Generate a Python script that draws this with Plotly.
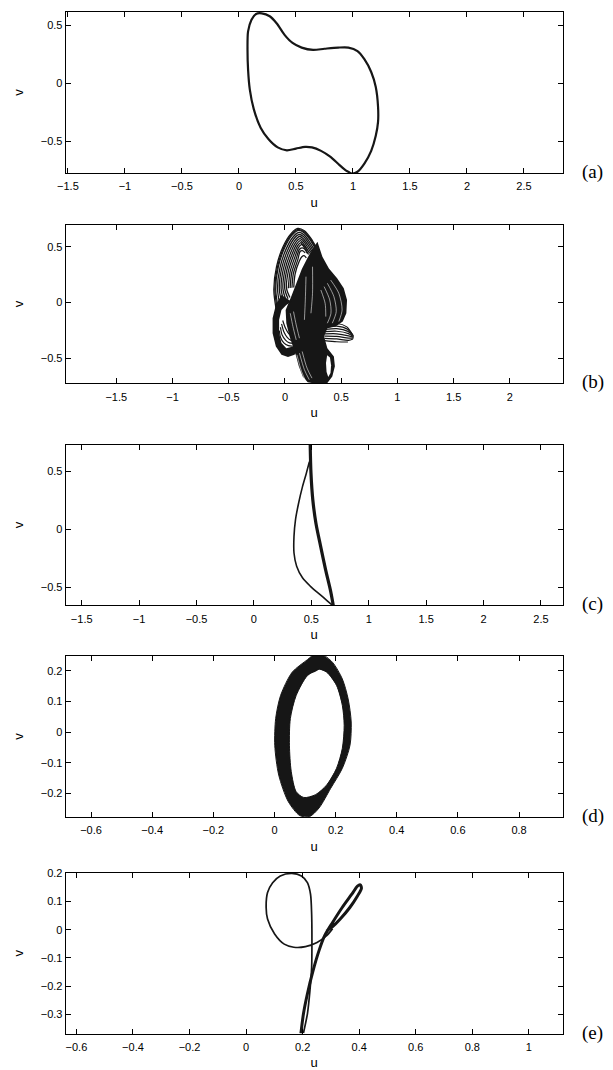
import plotly.graph_objects as go

# ---------------- data ----------------
# (a) limit cycle
a_u = [0.20,0.27,0.33,0.40,0.47,0.55,0.65,0.75,0.87,0.96,1.04,1.10,1.16,1.20,1.22,1.22,1.20,1.16,1.10,1.04,0.99,0.96,0.94,0.88,0.80,0.72,0.64,0.58,0.50,0.42,0.34,0.26,0.19,0.13,0.095,0.08,0.075,0.08,0.11,0.15,0.20]
a_v = [0.605,0.58,0.52,0.42,0.35,0.31,0.29,0.30,0.31,0.31,0.28,0.21,0.10,-0.03,-0.20,-0.33,-0.45,-0.58,-0.69,-0.76,-0.775,-0.76,-0.75,-0.70,-0.63,-0.58,-0.55,-0.545,-0.56,-0.575,-0.55,-0.48,-0.38,-0.22,-0.05,0.12,0.30,0.45,0.55,0.60,0.605]

# (b) chaotic attractor
b_body_u = [0.289,0.333,0.391,0.464,0.523,0.552,0.546,0.514,0.450,0.377,0.348,0.377,0.435,0.444,0.421,0.377,0.275,0.202,0.158,0.123,0.100,0.071,0.041,0.012,0.006,0.056,0.100,0.150,0.200,0.240]
b_body_v = [0.544,0.410,0.306,0.217,0.128,0.024,-0.095,-0.169,-0.214,-0.229,-0.303,-0.407,-0.481,-0.570,-0.660,-0.719,-0.725,-0.713,-0.660,-0.570,-0.481,-0.392,-0.303,-0.184,-0.065,0.054,0.173,0.300,0.400,0.470]
b_loop_u = [-0.031,-0.081,-0.110,-0.110,-0.081,-0.031,0.027,0.085,0.114,0.071,0.012,-0.031,-0.052,-0.052,-0.031,0.012,0.056]
b_loop_v = [0.069,-0.021,-0.140,-0.273,-0.392,-0.466,-0.487,-0.466,-0.422,-0.392,-0.407,-0.362,-0.273,-0.154,-0.065,-0.021,0.009]
b_hole_u = [0.375,0.40,0.41,0.405,0.385,0.37,0.365]
b_hole_v = [-0.47,-0.49,-0.56,-0.63,-0.665,-0.62,-0.54]
b_fan = [
    ([-0.075,-0.099,-0.075,-0.017,0.056,0.114,0.173,0.231,0.275], [-0.080,0.113,0.321,0.500,0.619,0.663,0.642,0.574,0.500]),
    ([-0.066,-0.090,-0.067,-0.010,0.060,0.116,0.171,0.227,0.270], [-0.070,0.114,0.318,0.494,0.611,0.654,0.633,0.567,0.495]),
    ([-0.058,-0.082,-0.060,-0.004,0.064,0.118,0.170,0.224,0.265], [-0.06,0.115,0.315,0.488,0.603,0.645,0.625,0.560,0.49]),
    ([-0.041,-0.066,-0.045,0.009,0.072,0.122,0.167,0.217,0.256], [-0.04,0.117,0.309,0.476,0.587,0.627,0.608,0.546,0.48]),
    ([-0.024,-0.050,-0.030,0.022,0.080,0.126,0.164,0.210,0.247], [-0.02,0.119,0.303,0.464,0.571,0.609,0.591,0.532,0.47]),
    ([-0.007,-0.034,-0.015,0.035,0.088,0.130,0.161,0.203,0.238], [0.0,0.121,0.297,0.452,0.555,0.591,0.574,0.518,0.46]),
    ([0.010,-0.018,0.0,0.048,0.096,0.134,0.158,0.196,0.23], [0.02,0.123,0.291,0.44,0.539,0.573,0.557,0.504,0.45]),
    ([0.027,-0.002,0.015,0.061,0.104,0.138,0.155,0.189,0.22], [0.035,0.125,0.285,0.428,0.523,0.555,0.540,0.49,0.44]),
    ([0.044,0.014,0.030,0.074,0.112,0.142,0.152,0.18,0.21], [0.045,0.127,0.279,0.416,0.507,0.537,0.523,0.48,0.43]),
    ([0.03,0.045,0.087,0.120,0.146,0.17,0.20], [0.129,0.273,0.404,0.491,0.519,0.51,0.47]),
    ([0.046,0.060,0.100,0.128,0.15,0.175,0.20], [0.131,0.267,0.392,0.475,0.49,0.48,0.44]),
    ([0.062,0.075,0.113,0.136,0.155,0.18], [0.133,0.261,0.38,0.459,0.465,0.445]),
    ([0.078,0.090,0.126,0.15,0.17,0.19], [0.135,0.255,0.368,0.41,0.42,0.40]),
]
b_wedge = [
    ([0.36,0.46,0.55,0.60], [-0.20,-0.187,-0.217,-0.285]),
    ([0.36,0.46,0.555,0.605], [-0.22,-0.21,-0.237,-0.292]),
    ([0.36,0.46,0.56,0.61], [-0.24,-0.233,-0.257,-0.298]),
    ([0.355,0.46,0.565,0.61], [-0.26,-0.256,-0.277,-0.305]),
    ([0.355,0.46,0.565,0.61], [-0.28,-0.279,-0.297,-0.311]),
    ([0.35,0.46,0.565,0.61], [-0.30,-0.302,-0.317,-0.318]),
    ([0.35,0.46,0.565,0.605], [-0.32,-0.325,-0.337,-0.325]),
    ([0.35,0.46,0.56], [-0.34,-0.35,-0.352]),
]
b_inner_hatch = [
    ([-0.05,-0.04,-0.01,0.03,0.07], [-0.25,-0.31,-0.36,-0.385,-0.39]),
    ([-0.04,-0.025,0.005,0.04,0.075], [-0.22,-0.29,-0.335,-0.36,-0.365]),
    ([-0.03,-0.01,0.02,0.05,0.08], [-0.19,-0.26,-0.31,-0.335,-0.34]),
    ([-0.02,0.005,0.035,0.065], [-0.16,-0.23,-0.28,-0.305]),
]
b_streaks = [
    ([0.406,0.479,0.508,0.479], [0.202,0.083,-0.065,-0.169]),
    ([0.377,0.435,0.456,0.421], [0.173,0.054,-0.080,-0.184]),
    ([0.348,0.398,0.409,0.377], [0.143,0.024,-0.095,-0.184]),
    ([0.319,0.357,0.363], [0.113,-0.006,-0.125]),
    ([0.187,0.181,0.173], [0.232,0.024,-0.154]),
    ([0.245,0.245,0.231], [0.321,0.083,-0.095]),
    ([0.129,0.173,0.216], [-0.452,-0.600,-0.689]),
    ([0.153,0.196,0.240], [-0.437,-0.585,-0.675]),
    ([0.106,0.147,0.181], [-0.467,-0.615,-0.695]),
    ([0.047,0.071,0.100], [-0.095,-0.214,-0.333]),
    ([0.076,0.100,0.129], [-0.080,-0.199,-0.318]),
]

# (c)
c_thick_u = [0.490,0.497,0.513,0.540,0.581,0.624,0.668,0.691]
c_thick_v = [0.729,0.48,0.251,0.051,-0.149,-0.349,-0.534,-0.657]
c_thin_u = [0.483,0.456,0.423,0.389,0.362,0.349,0.349,0.372,0.423,0.49,0.574,0.641,0.685]
c_thin_v = [0.58,0.48,0.366,0.223,0.08,-0.063,-0.206,-0.32,-0.42,-0.491,-0.563,-0.62,-0.657]

# (d) torus band
d_outer_u = [0.152,0.190,0.222,0.241,0.251,0.247,0.222,0.184,0.146,0.115,0.083,0.045,0.014,0.001,0.004,0.020,0.058,0.108,0.134,0.152]
d_outer_v = [0.256,0.227,0.173,0.108,0.033,-0.043,-0.118,-0.183,-0.247,-0.275,-0.272,-0.226,-0.140,-0.043,0.044,0.119,0.195,0.236,0.256,0.256]
d_inner_u = [0.146,0.171,0.203,0.222,0.228,0.222,0.203,0.171,0.134,0.096,0.071,0.055,0.049,0.052,0.071,0.108,0.146]
d_inner_v = [0.205,0.195,0.152,0.087,0.022,-0.053,-0.118,-0.172,-0.204,-0.213,-0.194,-0.129,-0.043,0.044,0.119,0.184,0.205]

# (e)
e_loop_u = [0.203,0.217,0.226,0.232,0.233,0.232,0.228,0.217,0.196,0.162,0.121,0.094,0.076,0.071,0.076,0.101,0.135,0.169,0.21,0.251,0.285,0.306]
e_loop_v = [-0.366,-0.298,-0.215,-0.133,-0.039,0.055,0.126,0.167,0.191,0.200,0.191,0.167,0.132,0.079,0.038,-0.015,-0.051,-0.062,-0.06,-0.045,-0.021,0.004]
e_strand_u = [0.194,0.203,0.217,0.237,0.258,0.278,0.306,0.34,0.374,0.394,0.404,0.408,0.394,0.367,0.333,0.306,0.285]
e_strand_v = [-0.368,-0.298,-0.227,-0.145,-0.074,-0.021,0.026,0.079,0.126,0.155,0.159,0.147,0.12,0.079,0.038,0.011,-0.004]

panel_labels = ["(a)", "(b)", "(c)", "(d)", "(e)"]
x_ranges = [[-1.52, 2.84], [-1.95, 2.47], [-1.64, 2.69], [-0.683, 0.943], [-0.638, 1.12]]
y_ranges = [[-0.771, 0.617], [-0.722, 0.696], [-0.657, 0.729], [-0.277, 0.249], [-0.368, 0.202]]
x_ticks = [[-1.5,-1,-0.5,0,0.5,1,1.5,2,2.5], [-1.5,-1,-0.5,0,0.5,1,1.5,2],
           [-1.5,-1,-0.5,0,0.5,1,1.5,2,2.5], [-0.6,-0.4,-0.2,0,0.2,0.4,0.6,0.8],
           [-0.6,-0.4,-0.2,0,0.2,0.4,0.6,0.8,1]]
y_ticks = [[-0.5,0,0.5], [-0.5,0,0.5], [-0.5,0,0.5],
           [-0.2,-0.1,0,0.1,0.2], [-0.3,-0.2,-0.1,0,0.1,0.2]]

# ---------------- layout geometry ----------------
W, H = 613, 1070
x_dom = [57.5 / W, 562 / W]
panel_px = [(6, 168), (220, 379.5), (441, 602.7), (653.3, 815.7), (871.7, 1033.3)]

INK = "#161616"
fig = go.Figure()

def xy(i):
    return ("x" if i == 0 else f"x{i+1}"), ("y" if i == 0 else f"y{i+1}")

def line(i, u, v, w, color=INK, shape="spline"):
    xa, ya = xy(i)
    fig.add_trace(go.Scatter(x=u, y=v, mode="lines", xaxis=xa, yaxis=ya,
                             line=dict(color=color, width=w, shape=shape, smoothing=0.8),
                             showlegend=False, hoverinfo="skip"))

def fill(i, u, v, color=INK, shape="linear"):
    xa, ya = xy(i)
    fig.add_trace(go.Scatter(x=u, y=v, mode="lines", xaxis=xa, yaxis=ya, fill="toself",
                             fillcolor=color,
                             line=dict(width=0, color=color, shape=shape, smoothing=0.6),
                             showlegend=False, hoverinfo="skip"))

# (a)
line(0, a_u, a_v, 2.2)

# (b)
for u, v in b_fan:
    line(1, u, v, 1.3)
fill(1, b_body_u, b_body_v)
fill(1, b_loop_u, b_loop_v)
for u, v in b_inner_hatch:
    line(1, u, v, 1.2)
for u, v in b_wedge:
    line(1, u, v, 1.2)
fill(1, b_hole_u, b_hole_v, "white")
for u, v in b_streaks:
    line(1, u, v, 0.7, "rgba(255,255,255,0.8)")

# (c)
line(2, c_thin_u, c_thin_v, 1.6)
line(2, c_thick_u, c_thick_v, 3.2)

# (d)
fill(3, d_outer_u + d_inner_u[::-1], d_outer_v + d_inner_v[::-1], shape="spline")
line(3, d_outer_u, d_outer_v, 1.0)
line(3, d_inner_u, d_inner_v, 1.0)

# (e)
line(4, e_loop_u, e_loop_v, 1.7)
line(4, e_strand_u, e_strand_v, 3.0)

tick_font = dict(family="Liberation Sans, Arial, sans-serif", size=11, color="black")
title_font = dict(family="Liberation Sans, Arial, sans-serif", size=13, color="black")

layout = dict(width=W, height=H, margin=dict(l=0, r=0, t=0, b=0),
              paper_bgcolor="white", plot_bgcolor="white", showlegend=False)
annotations = []
for i in range(5):
    top, bot = panel_px[i]
    ydom = [1 - bot / H, 1 - top / H]
    xk = "xaxis" if i == 0 else f"xaxis{i+1}"
    yk = "yaxis" if i == 0 else f"yaxis{i+1}"
    xa, ya = xy(i)
    layout[xk] = dict(domain=x_dom, anchor=ya, range=x_ranges[i], tickvals=x_ticks[i],
                      ticks="inside", ticklen=5, tickcolor="black", showline=True,
                      linecolor="black", linewidth=1, mirror="ticks", showgrid=False,
                      zeroline=False, tickfont=tick_font, ticklabelstandoff=3,
                      title=dict(text="u", font=title_font, standoff=6))
    layout[yk] = dict(domain=ydom, anchor=xa, range=y_ranges[i], tickvals=y_ticks[i],
                      ticks="inside", ticklen=5, tickcolor="black", showline=True,
                      linecolor="black", linewidth=1, mirror="ticks", showgrid=False,
                      zeroline=False, tickfont=tick_font,
                      title=dict(text="v", font=title_font, standoff=14))
    annotations.append(dict(text=panel_labels[i], xref="paper", yref="paper",
                            x=580 / W, y=1 - (bot - 1) / H, xanchor="left", yanchor="middle",
                            showarrow=False,
                            font=dict(family="Liberation Serif, Times New Roman, serif",
                                      size=19, color="black")))
layout["annotations"] = annotations
fig.update_layout(**layout)

fig.write_html("out.html", config={"displayModeBar": False},
               post_script="document.body.style.margin='0px';")
